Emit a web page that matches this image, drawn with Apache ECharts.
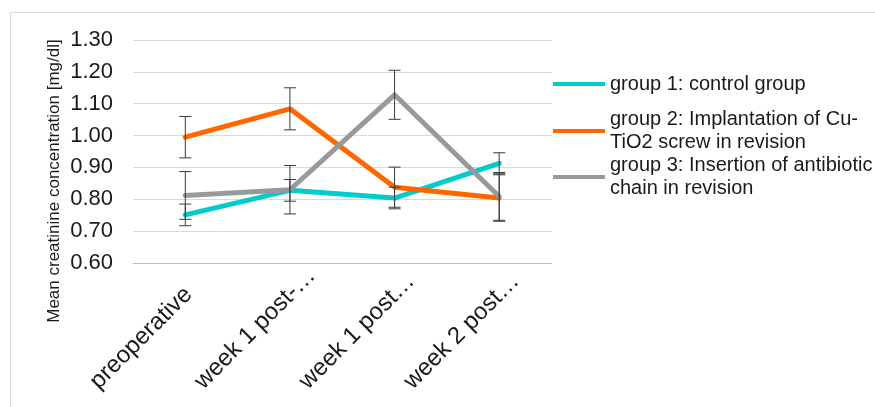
<!DOCTYPE html>
<html>
<head>
<meta charset="utf-8">
<script src="https://cdn.jsdelivr.net/npm/echarts@6/dist/echarts.min.js"></script>
<style>
  html, body { margin: 0; padding: 0; background: #fff; }
  #chart { width: 875px; height: 407px; }
</style>
</head>
<body>
<div id="chart"></div>
<script>
// Time points (axis labels as shown, truncated)
const categories = ['preoperative', 'week 1 post-\u2026', 'week 1 post\u2026', 'week 2 post\u2026'];

// Mean creatinine concentration [mg/dl] per group
const group1 = [0.751, 0.828, 0.804, 0.913];
const group2 = [0.995, 1.084, 0.838, 0.804];
const group3 = [0.812, 0.830, 1.128, 0.809];

// Error bar half-widths (mg/dl)
const group1Err = [0.034, 0.034, 0.034, 0.033];
const group2Err = [0.065, 0.066, 0.063, 0.073];
const group3Err = [0.075, 0.076, 0.077, 0.075];

const seriesNames = [
  'group 1: control group',
  'group 2: Implantation of Cu-\nTiO2 screw in revision',
  'group 3: Insertion of antibiotic\nchain in revision'
];
const seriesColors = ['#00CCCC', '#FF6600', '#999999'];

// Y axis ticks
const yMin = 0.6, yMax = 1.3, yStep = 0.1;

const FONT = 'Liberation Sans, Arial, sans-serif';

function errorBarSeries(values, errs, z) {
  return {
    type: 'custom',
    silent: true,
    z: z,
    data: values.map((v, i) => [i, v - errs[i], v + errs[i]]),
    renderItem: function (params, api) {
      const lo = api.coord([api.value(0), api.value(1)]);
      const hi = api.coord([api.value(0), api.value(2)]);
      const cap = 6;
      const style = { stroke: '#3a3a3a', lineWidth: 1 };
      return {
        type: 'group',
        children: [
          { type: 'line', shape: { x1: lo[0], y1: lo[1], x2: hi[0], y2: hi[1] }, style: style },
          { type: 'line', shape: { x1: lo[0] - cap, y1: lo[1], x2: lo[0] + cap, y2: lo[1] }, style: style },
          { type: 'line', shape: { x1: hi[0] - cap, y1: hi[1], x2: hi[0] + cap, y2: hi[1] }, style: style }
        ]
      };
    }
  };
}

function lineSeries(name, values, color, z) {
  return {
    name: name,
    type: 'line',
    data: values,
    z: z,
    showSymbol: false,
    symbol: 'none',
    itemStyle: { color: color },
    lineStyle: { color: color, width: 5, cap: 'round', join: 'round' }
  };
}

function legendFor(idx, top, twoLines) {
  return {
    show: true,
    orient: 'vertical',
    left: 553,
    top: top,
    padding: 0,
    icon: 'rect',
    itemWidth: 52,
    itemHeight: 4,
    data: [seriesNames[idx]],
    textStyle: {
      fontFamily: FONT,
      fontSize: 20,
      color: '#1a1a1a',
      lineHeight: 23,
      padding: twoLines ? [23, 0, 0, 0] : 0
    }
  };
}

const chart = echarts.init(document.getElementById('chart'), null, { renderer: 'canvas' });

chart.setOption({
  backgroundColor: '#ffffff',
  animation: false,
  grid: { left: 133, right: 323.5, top: 40, bottom: 144, containLabel: false },
  legend: [
    legendFor(0, 72.5, false),
    legendFor(1, 96.5, true),
    legendFor(2, 142.5, true)
  ],
  graphic: [
    {
      type: 'rect',
      shape: { x: 10.5, y: 12.5, width: 900, height: 420 },
      style: { fill: 'none', stroke: '#d9d9d9', lineWidth: 1 },
      silent: true,
      z: -10
    },
    {
      type: 'text',
      x: 54,
      y: 181,
      rotation: Math.PI / 2,
      style: {
        text: 'Mean creatinine concentration [mg/dl]',
        fontFamily: FONT,
        fontSize: 17,
        fill: '#1a1a1a',
        align: 'center',
        verticalAlign: 'middle'
      }
    }
  ],
  xAxis: {
    type: 'category',
    data: categories,
    boundaryGap: true,
    axisTick: { show: false },
    axisLine: { show: true, lineStyle: { color: '#bfbfbf', width: 1 } },
    axisLabel: {
      rotate: 45,
      margin: 31,
      interval: 0,
      formatter: v => '{a|' + v + '}',
      rich: {
        a: { width: 129, align: 'left', fontFamily: FONT, fontSize: 24, color: '#1a1a1a' }
      }
    }
  },
  yAxis: {
    type: 'value',
    min: yMin,
    max: yMax,
    interval: yStep,
    axisLine: { show: false },
    axisTick: { show: false },
    splitLine: { lineStyle: { color: '#d9d9d9', width: 1 } },
    axisLabel: {
      margin: 20,
      fontFamily: FONT,
      fontSize: 22,
      color: '#1a1a1a',
      formatter: v => v.toFixed(2)
    }
  },
  series: [
    lineSeries(seriesNames[0], group1, seriesColors[0], 2),
    lineSeries(seriesNames[1], group2, seriesColors[1], 3),
    lineSeries(seriesNames[2], group3, seriesColors[2], 4),
    errorBarSeries(group1, group1Err, 5),
    errorBarSeries(group2, group2Err, 5),
    errorBarSeries(group3, group3Err, 5)
  ]
});
</script>
</body>
</html>
